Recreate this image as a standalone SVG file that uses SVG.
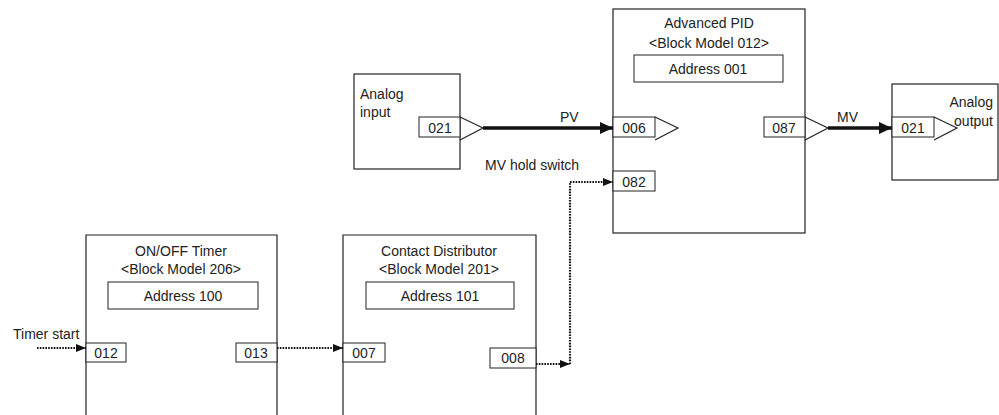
<svg xmlns="http://www.w3.org/2000/svg" width="999" height="415" viewBox="0 0 999 415">
<style>
.box{fill:#fff;stroke:#222;stroke-width:1.2}
.port{fill:#fff;stroke:#222;stroke-width:1}
.tri{fill:none;stroke:#222;stroke-width:1.2}
text{font-family:"Liberation Sans",Arial,sans-serif;font-size:14px;fill:#222}
.c{text-anchor:middle}
.thick{stroke:#111;stroke-width:3.5;fill:none}
.dot{stroke:#111;stroke-width:2.2;stroke-dasharray:1.6 1.2;fill:none}
</style>
<defs>
<marker id="big" markerWidth="13" markerHeight="12" refX="13" refY="6" orient="auto" markerUnits="userSpaceOnUse"><path d="M0,0 L13,6 L0,12 Z" fill="#111"/></marker>
<marker id="sm" markerWidth="10" markerHeight="8" refX="10" refY="4" orient="auto" markerUnits="userSpaceOnUse"><path d="M0,0 L10,4 L0,8 Z" fill="#111"/></marker>
</defs>
<g id="analog-input">
<rect class="box" x="354" y="74" width="106" height="95"/>
<text x="360" y="99">Analog</text>
<text x="360" y="117">input</text>
<rect class="port" x="419" y="117" width="41" height="20"/>
<text class="c" x="440" y="133">021</text>
<path class="tri" d="M460,117 L483,128 L460,140"/>
</g>
<g id="advanced-pid">
<rect class="box" x="613" y="9" width="192" height="224"/>
<text class="c" x="709" y="28">Advanced PID</text>
<text class="c" x="709" y="48">&lt;Block Model 012&gt;</text>
<rect class="port" x="634" y="55" width="149" height="27"/>
<text class="c" x="708" y="74">Address 001</text>
<rect class="port" x="613" y="117" width="42" height="20"/>
<text class="c" x="634" y="133">006</text>
<path class="tri" d="M655,117 L678,128 L655,140"/>
<rect class="port" x="613" y="171" width="42" height="20"/>
<text class="c" x="634" y="187">082</text>
<rect class="port" x="764" y="117" width="41" height="20"/>
<text class="c" x="784" y="133">087</text>
<path class="tri" d="M805,117 L828,128 L805,140"/>
</g>
<g id="analog-output">
<rect class="box" x="892" y="84" width="106" height="96"/>
<text x="993" y="107" text-anchor="end">Analog</text>
<text x="993" y="126" text-anchor="end">output</text>
<rect class="port" x="892" y="117" width="42" height="20"/>
<text class="c" x="913" y="133">021</text>
<path class="tri" d="M934,117 L957,128 L934,140"/>
</g>
<g id="onoff-timer">
<path class="box" d="M86,416 V235 H277 V416"/>
<text class="c" x="181" y="256">ON/OFF Timer</text>
<text class="c" x="181" y="274">&lt;Block Model 206&gt;</text>
<rect class="port" x="108" y="282" width="150" height="27"/>
<text class="c" x="183" y="301">Address 100</text>
<rect class="port" x="86" y="343" width="40" height="19"/>
<text class="c" x="106" y="358">012</text>
<rect class="port" x="236" y="343" width="41" height="19"/>
<text class="c" x="256" y="358">013</text>
</g>
<g id="contact-distributor">
<path class="box" d="M343,416 V235 H536 V416"/>
<text class="c" x="439" y="256">Contact Distributor</text>
<text class="c" x="439" y="274">&lt;Block Model 201&gt;</text>
<rect class="port" x="366" y="282" width="148" height="27"/>
<text class="c" x="440" y="301">Address 101</text>
<rect class="port" x="343" y="343" width="42" height="19"/>
<text class="c" x="364" y="358">007</text>
<rect class="port" x="490" y="348" width="46" height="20"/>
<text class="c" x="513" y="363">008</text>
</g>
<g id="connectors">
<line class="thick" x1="483" y1="128" x2="613" y2="128" marker-end="url(#big)"/>
<text x="560" y="122">PV</text>
<line class="thick" x1="828" y1="128" x2="892" y2="128" marker-end="url(#big)"/>
<text x="837" y="122">MV</text>
<text x="485" y="170">MV hold switch</text>
<line class="dot" x1="37" y1="348" x2="86" y2="348" marker-end="url(#sm)"/>
<text x="13" y="339">Timer start</text>
<line class="dot" x1="277" y1="348" x2="343" y2="348" marker-end="url(#sm)"/>
<line class="dot" x1="536" y1="364" x2="570" y2="364" marker-end="url(#sm)"/>
<path class="dot" d="M570,364 V182 H613" marker-end="url(#sm)"/>
</g>
</svg>
